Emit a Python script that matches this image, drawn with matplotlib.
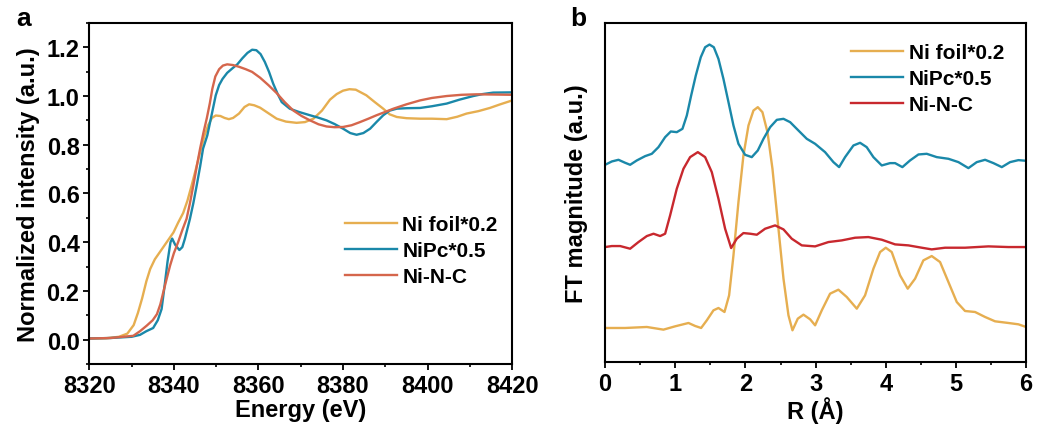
import matplotlib
matplotlib.use("Agg")
import matplotlib.pyplot as plt
from matplotlib.ticker import MultipleLocator, NullLocator, FormatStrFormatter

plt.rcParams['font.family'] = ['Liberation Sans', 'DejaVu Sans']
plt.rcParams['font.weight'] = 'bold'
plt.rcParams['axes.labelweight'] = 'bold'

# ---------------- Ni K-edge XANES (panel a) ----------------
foil_E = [8320, 8324, 8327, 8329, 8330.5, 8331.5, 8332.5, 8333.5, 8334.4, 8335.5,
          8336.7, 8338.3, 8339.9, 8341, 8342.2, 8343.2, 8344.2, 8345.2, 8346.2,
          8347.2, 8348.1, 8349, 8349.9, 8351, 8352, 8353, 8354, 8355.4, 8356.7,
          8357.8, 8359, 8360.4, 8362.3, 8364.3, 8366.5, 8369, 8371, 8373, 8375,
          8376.9, 8378.5, 8380, 8381.5, 8383, 8385.5, 8387.5, 8389.5, 8391, 8392.7,
          8395, 8398.2, 8401, 8404.5, 8407, 8409.2, 8412, 8414.7, 8417, 8420]
foil_mu = [0.005, 0.006, 0.012, 0.025, 0.06, 0.11, 0.17, 0.24, 0.29, 0.33,
           0.36, 0.40, 0.44, 0.48, 0.52, 0.57, 0.633, 0.70, 0.77,
           0.835, 0.88, 0.91, 0.92, 0.918, 0.91, 0.905, 0.91, 0.928, 0.955,
           0.966, 0.962, 0.952, 0.93, 0.907, 0.895, 0.89, 0.893, 0.907, 0.94,
           0.985, 1.008, 1.022, 1.028, 1.026, 1.003, 0.975, 0.948, 0.925, 0.914,
           0.909, 0.907, 0.907, 0.905, 0.915, 0.928, 0.938, 0.951, 0.965, 0.982]

nipc_E = [8320, 8325, 8330, 8332, 8333.5, 8335.1, 8336.2, 8337.1, 8337.8, 8338.5,
          8339.2, 8339.6, 8340.3, 8341.3, 8342, 8342.6, 8343.8, 8344.6, 8345.4,
          8346.2, 8346.9, 8347.9, 8348.9, 8349.9, 8350.7, 8351.5, 8352.6, 8353.8,
          8355, 8356.2, 8357.4, 8358.5, 8359.5, 8360.5, 8361.5, 8362.5, 8363.5,
          8364.5, 8365.5, 8367.4, 8369.5, 8372.2, 8374, 8376.1, 8378, 8380, 8381.7,
          8383.2, 8384.8, 8386.4, 8388, 8389.5, 8391, 8392.7, 8395, 8398.2, 8401,
          8404.5, 8407.5, 8410.8, 8413, 8415.5, 8420]
nipc_mu = [0.005, 0.007, 0.012, 0.02, 0.035, 0.048, 0.08, 0.126, 0.22, 0.32,
           0.40, 0.415, 0.39, 0.368, 0.38, 0.414, 0.496, 0.56, 0.633,
           0.71, 0.784, 0.838, 0.92, 1.003, 1.045, 1.07, 1.095, 1.113,
           1.13, 1.155, 1.177, 1.19, 1.188, 1.172, 1.14, 1.099, 1.05,
           1.01, 0.975, 0.948, 0.935, 0.921, 0.912, 0.90, 0.885, 0.866, 0.848,
           0.841, 0.848, 0.866, 0.895, 0.921, 0.94, 0.948, 0.95, 0.951, 0.958,
           0.969, 0.985, 1.0, 1.008, 1.014, 1.015]

nnc_E = [8320, 8325, 8330.4, 8332, 8333.6, 8335, 8336, 8336.8, 8337.5, 8338.3,
         8339.1, 8340, 8341, 8342, 8343, 8343.8, 8344.6, 8345.4, 8346.2, 8347,
         8347.8, 8348.5, 8349.1, 8349.8, 8350.7, 8351.6, 8352.6, 8354, 8355.4,
         8357, 8358.5, 8360.4, 8362.4, 8364.3, 8366.2, 8368.2, 8370.2, 8372.2,
         8374.2, 8376.1, 8378, 8380, 8382, 8384, 8386, 8387.9, 8390, 8391.9,
         8395, 8398.2, 8401, 8404.5, 8408, 8411.6, 8416, 8420]
nnc_mu = [0.005, 0.007, 0.016, 0.035, 0.058, 0.08, 0.105, 0.145, 0.195, 0.25,
          0.304, 0.355, 0.40, 0.45, 0.496, 0.56, 0.633, 0.71, 0.784, 0.85,
          0.91, 0.97, 1.03, 1.08, 1.11, 1.125, 1.13, 1.127, 1.12,
          1.11, 1.099, 1.075, 1.044, 1.012, 0.975, 0.941, 0.918, 0.90,
          0.884, 0.875, 0.872, 0.873, 0.88, 0.893, 0.907, 0.921, 0.935, 0.948,
          0.966, 0.982, 0.992, 1.0, 1.005, 1.007, 1.006, 1.005]

# ---------------- FT-EXAFS in R space (panel b) ----------------
foil_R = [0, 0.285, 0.594, 0.831, 0.998, 1.188, 1.283, 1.368, 1.449, 1.544, 1.615,
          1.701, 1.767, 1.829, 1.9, 1.971, 2.043, 2.114, 2.176, 2.242, 2.314,
          2.385, 2.461, 2.542, 2.613, 2.67, 2.746, 2.827, 2.922, 2.993, 3.088,
          3.206, 3.325, 3.444, 3.587, 3.705, 3.824, 3.919, 4.0, 4.085, 4.204,
          4.313, 4.418, 4.536, 4.655, 4.774, 4.893, 5.012, 5.13, 5.273, 5.416,
          5.558, 5.748, 5.891, 6.0]
foil_ft = [1.02, 1.02, 1.05, 0.97, 1.07, 1.17, 1.08, 1.02, 1.25, 1.55, 1.62,
           1.5, 2.0, 3.2, 4.8, 6.2, 7.1, 7.55, 7.65, 7.5, 6.9,
           5.8, 4.2, 2.5, 1.4, 0.95, 1.3, 1.42, 1.28, 1.1, 1.55,
           2.05, 2.17, 1.95, 1.6, 2.0, 2.8, 3.3, 3.43, 3.3, 2.6,
           2.2, 2.5, 3.05, 3.18, 3.0, 2.4, 1.8, 1.53, 1.5, 1.35,
           1.22, 1.17, 1.13, 1.05]

nipc_R = [0, 0.095, 0.19, 0.285, 0.356, 0.451, 0.57, 0.665, 0.76, 0.855, 0.936,
          1.021, 1.102, 1.164, 1.226, 1.292, 1.363, 1.425, 1.487, 1.549, 1.615,
          1.686, 1.758, 1.829, 1.9, 1.995, 2.09, 2.176, 2.257, 2.352, 2.447,
          2.542, 2.637, 2.755, 2.874, 2.993, 3.135, 3.254, 3.335, 3.42, 3.539,
          3.634, 3.728, 3.824, 3.943, 4.061, 4.133, 4.237, 4.346, 4.466, 4.584,
          4.727, 4.894, 5.036, 5.178, 5.297, 5.416, 5.535, 5.654, 5.772, 5.891, 6.0]
nipc_ft = [5.92, 6.02, 6.07, 5.98, 5.92, 6.05, 6.18, 6.25, 6.45, 6.75, 6.92,
           6.9, 7.0, 7.4, 8.0, 8.6, 9.15, 9.45, 9.53, 9.45, 9.1,
           8.5, 7.8, 7.1, 6.55, 6.22, 6.15, 6.35, 6.7, 7.05, 7.27,
           7.3, 7.2, 6.95, 6.7, 6.55, 6.3, 6.0, 5.85, 6.15, 6.5,
           6.58, 6.45, 6.15, 5.9, 5.97, 5.97, 5.85, 6.05, 6.23, 6.25,
           6.15, 6.1, 6.0, 5.82, 6.0, 6.07, 5.97, 5.85, 6.0, 6.06, 6.04]

nnc_R = [0, 0.095, 0.214, 0.356, 0.475, 0.594, 0.689, 0.784, 0.855, 0.926, 1.021,
         1.116, 1.211, 1.321, 1.425, 1.52, 1.615, 1.71, 1.796, 1.876, 1.971,
         2.067, 2.162, 2.28, 2.423, 2.542, 2.66, 2.803, 2.993, 3.183, 3.373,
         3.563, 3.752, 3.943, 4.133, 4.323, 4.513, 4.655, 4.845, 5.13, 5.463,
         5.748, 6.0]
nnc_ft = [3.45, 3.48, 3.48, 3.4, 3.6, 3.78, 3.85, 3.78, 3.85, 4.4, 5.2,
          5.8, 6.15, 6.3, 6.15, 5.7, 4.9, 4.0, 3.42, 3.7, 3.87,
          3.85, 3.82, 4.0, 4.1, 3.98, 3.7, 3.5, 3.47, 3.6, 3.65,
          3.73, 3.75, 3.67, 3.53, 3.5, 3.43, 3.38, 3.43, 3.43, 3.47,
          3.45, 3.45]

labels = ['Ni foil*0.2', 'NiPc*0.5', 'Ni-N-C']
c_foil = '#E6AE50'
c_pc = '#1A88A9'
c_nnc_a = '#D5664C'
c_nnc_b = '#C8282E'

fig = plt.figure(figsize=(10.38, 4.27), dpi=100)
axa = fig.add_axes([0.086, 0.145, 0.4075, 0.799])
axb = fig.add_axes([0.583, 0.150, 0.4055, 0.794])

lw = 1.7
axa.plot(foil_E, foil_mu, color=c_foil, lw=lw, label=labels[0])
axa.plot(nipc_E, nipc_mu, color=c_pc, lw=lw, label=labels[1])
axa.plot(nnc_E, nnc_mu, color=c_nnc_a, lw=lw, label=labels[2])
axa.set_xlim(8320, 8420)
axa.set_ylim(-0.1, 1.3)
axa.xaxis.set_major_locator(MultipleLocator(20))
axa.xaxis.set_minor_locator(MultipleLocator(10))
axa.yaxis.set_major_locator(MultipleLocator(0.2))
axa.yaxis.set_minor_locator(MultipleLocator(0.1))
axa.yaxis.set_major_formatter(FormatStrFormatter('%.1f'))
axa.set_xlabel('Energy (eV)', fontsize=17, labelpad=1)
axa.set_ylabel('Normalized intensity (a.u.)', fontsize=17, labelpad=5)

axb.plot(foil_R, foil_ft, color=c_foil, lw=lw, label=labels[0])
axb.plot(nipc_R, nipc_ft, color=c_pc, lw=lw, label=labels[1])
axb.plot(nnc_R, nnc_ft, color=c_nnc_b, lw=lw, label=labels[2])
axb.set_xlim(0, 6)
axb.set_ylim(0, 10.18)
axb.xaxis.set_major_locator(MultipleLocator(1))
axb.xaxis.set_minor_locator(MultipleLocator(0.5))
axb.yaxis.set_major_locator(NullLocator())
axb.set_xlabel('R (Å)', fontsize=17, labelpad=1)
axb.set_ylabel('FT magnitude (a.u.)', fontsize=17, labelpad=12)

for ax in (axa, axb):
    for s in ax.spines.values():
        s.set_linewidth(1.5)
    ax.tick_params(which='major', direction='out', length=4, width=1.3,
                   labelsize=17, pad=3, top=False, right=False)
    ax.tick_params(which='minor', direction='out', length=2.5, width=1.2,
                   top=False, right=False)
    for t in ax.get_xticklabels() + ax.get_yticklabels():
        t.set_fontweight('bold')

leg_kw = dict(frameon=False, handlelength=2.5, handletextpad=0.25,
              labelspacing=0.34, borderpad=0.2, borderaxespad=0.3,
              prop={'weight': 'bold', 'size': 15})
axa.legend(loc='upper left', bbox_to_anchor=(0.58, 0.468), **leg_kw)
axb.legend(loc='upper left', bbox_to_anchor=(0.56, 0.972), **leg_kw)

fig.text(0.016, 0.94, 'a', fontsize=19, fontweight='bold')
fig.text(0.549, 0.94, 'b', fontsize=19, fontweight='bold')

fig.savefig('out.png', dpi=100)
